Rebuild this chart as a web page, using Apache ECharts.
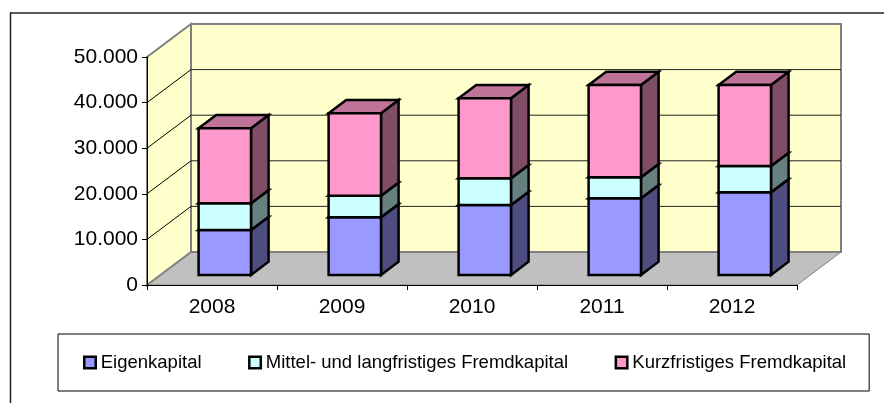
<!DOCTYPE html>
<html>
<head>
<meta charset="utf-8">
<style>html,body{margin:0;padding:0;background:#fff}#c{width:884px;height:403px}</style>
<script src="https://cdn.jsdelivr.net/npm/echarts@6/dist/echarts.min.js"></script>
</head>
<body>
<div id="c"></div>
<script>
const categories = ['2008', '2009', '2010', '2011', '2012'];
const yTicks = [0, 10000, 20000, 30000, 40000, 50000];
const seriesNames = ['Eigenkapital', 'Mittel- und langfristiges Fremdkapital', 'Kurzfristiges Fremdkapital'];
const eigenkapital = [9870, 12650, 15350, 16820, 18130];
const mittelLang = [5850, 4740, 5850, 4600, 5770];
const kurzfristig = [16450, 18070, 17550, 20250, 17770];
const seriesValues = [eigenkapital, mittelLang, kurzfristig];

const frontColors = ['#9999FF', '#CCFFFF', '#FF99CC'];
const sideColors = ['#4D4D80', '#668080', '#804D66'];
const topColors = ['#7373BF', '#99BFBF', '#BF7399'];

// Projection of the fake 3D box
const WALL_DX = 44, WALL_DY = -33;      // front plane to back wall
const BAR_DX = 13.3, BAR_DY = -10;      // front plane to bar front
const BAR_DEPTH_X = 17.6, BAR_DEPTH_Y = -13.3;
const BAR_FRACTION = 0.403;
const BAR_STROKE = 2.5;

function poly(points, fill, stroke, lw) {
  return {
    type: 'polygon',
    shape: { points: points },
    style: { fill: fill, stroke: stroke, lineWidth: lw, lineJoin: 'miter' }
  };
}
function line(x1, y1, x2, y2, stroke, lw) {
  return {
    type: 'line',
    shape: { x1: x1, y1: y1, x2: x2, y2: y2 },
    style: { stroke: stroke, lineWidth: lw, fill: null }
  };
}

function renderWalls(params, api) {
  const cs = params.coordSys;
  const yB = api.coord([0, yTicks[0]])[1];
  const yT = api.coord([0, yTicks[yTicks.length - 1]])[1];
  const xL = cs.x, xR = cs.x + cs.width;
  return {
    type: 'group',
    children: [
      poly([[xL, yB], [xR, yB], [xR + WALL_DX, yB + WALL_DY], [xL + WALL_DX, yB + WALL_DY]], '#C0C0C0', '#808080', 1),
      poly([[xL, yB], [xL + WALL_DX, yB + WALL_DY], [xL + WALL_DX, yT + WALL_DY], [xL, yT]], '#FFFFCC', '#808080', 2),
      poly([[xL + WALL_DX, yB + WALL_DY], [xR + WALL_DX, yB + WALL_DY], [xR + WALL_DX, yT + WALL_DY], [xL + WALL_DX, yT + WALL_DY]], '#FFFFCC', '#808080', 2)
    ]
  };
}

function renderGrid(params, api) {
  const cs = params.coordSys;
  const y = api.coord([0, api.value(0)])[1];
  const xL = cs.x, xR = cs.x + cs.width;
  return {
    type: 'group',
    children: [
      line(xL, y, xL + WALL_DX, y + WALL_DY, '#000', 1),
      line(xL + WALL_DX, y + WALL_DY, xR + WALL_DX, y + WALL_DY, '#222', 1)
    ]
  };
}

function renderBar(seriesIdx) {
  return function (params, api) {
    const idx = api.value(0);
    const base = api.coord([idx, api.value(1)]);
    const top = api.coord([idx, api.value(2)]);
    const w = api.size([1, 0])[0] * BAR_FRACTION;
    const x0 = base[0] - w / 2 + BAR_DX - 0.5, x1 = x0 + w;
    const yb = base[1] + BAR_DY, yt = top[1] + BAR_DY;
    const dx = BAR_DEPTH_X, dy = BAR_DEPTH_Y;
    return {
      type: 'group',
      children: [
        poly([[x1, yb], [x1 + dx, yb + dy], [x1 + dx, yt + dy], [x1, yt]], sideColors[seriesIdx], '#000', BAR_STROKE),
        poly([[x0, yt], [x1, yt], [x1 + dx, yt + dy], [x0 + dx, yt + dy]], topColors[seriesIdx], '#000', BAR_STROKE),
        poly([[x0, yb], [x1, yb], [x1, yt], [x0, yt]], frontColors[seriesIdx], '#000', BAR_STROKE)
      ]
    };
  };
}

function stackedData(i) {
  return categories.map(function (c, k) {
    let base = 0;
    for (let s = 0; s < i; s++) base += seriesValues[s][k];
    return [k, base, base + seriesValues[i][k]];
  });
}

const chart = echarts.init(document.getElementById('c'), null, { renderer: 'canvas' });
const fontFamily = '"Liberation Sans", Arial, sans-serif';

chart.setOption({
  animation: false,
  backgroundColor: '#fff',
  grid: { left: 147, right: 87, top: 57, bottom: 118 },
  xAxis: {
    type: 'category',
    data: categories,
    z: 10,
    axisLine: { show: true, lineStyle: { color: '#000', width: 1 } },
    axisTick: { show: true, length: 5, lineStyle: { color: '#000', width: 1 } },
    axisLabel: { color: '#000', fontSize: 21, fontFamily: fontFamily, margin: 12 },
    splitLine: { show: false }
  },
  yAxis: {
    type: 'value',
    min: yTicks[0],
    max: yTicks[yTicks.length - 1],
    interval: yTicks[1] - yTicks[0],
    z: 10,
    axisLine: { show: true, lineStyle: { color: '#000', width: 1 } },
    axisTick: { show: true, length: 5, lineStyle: { color: '#000', width: 1 } },
    axisLabel: {
      color: '#000', fontSize: 21, fontFamily: fontFamily, margin: 9,
      formatter: function (v) { return v === 0 ? '0' : String(v).replace(/(\d)(\d{3})$/, '$1.$2'); }
    },
    splitLine: { show: false }
  },
  legend: {
    left: 58,
    top: 334,
    orient: 'horizontal',
    padding: [19, 23, 19, 25],
    itemGap: 46.5,
    itemWidth: 11.5,
    itemHeight: 11.5,
    borderColor: '#000',
    borderWidth: 1,
    backgroundColor: '#fff',
    textStyle: { color: '#000', fontSize: 18.5, fontFamily: fontFamily },
    data: seriesNames.map(function (n, i) {
      return { name: n, icon: 'rect', itemStyle: { color: frontColors[i], borderColor: '#000', borderWidth: 2.5 } };
    })
  },
  graphic: [{
    type: 'polyline',
    silent: true,
    shape: { points: [[10.5, 403], [10.5, 13], [884, 13]] },
    style: { stroke: '#222', lineWidth: 1.5, fill: null }
  }],
  series: [
    { type: 'custom', z: 1, silent: true, clip: false, data: [[0]], renderItem: renderWalls },
    { type: 'custom', z: 2, silent: true, clip: false, data: yTicks.slice(1, -1).map(function (v) { return [v]; }), encode: { y: 0 }, renderItem: renderGrid }
  ].concat(seriesNames.map(function (n, i) {
    return {
      name: n,
      type: 'custom',
      z: 3 + i,
      clip: false,
      itemStyle: { color: frontColors[i] },
      encode: { x: 0, y: [1, 2] },
      data: stackedData(i),
      renderItem: renderBar(i)
    };
  }))
});
</script>
</body>
</html>
